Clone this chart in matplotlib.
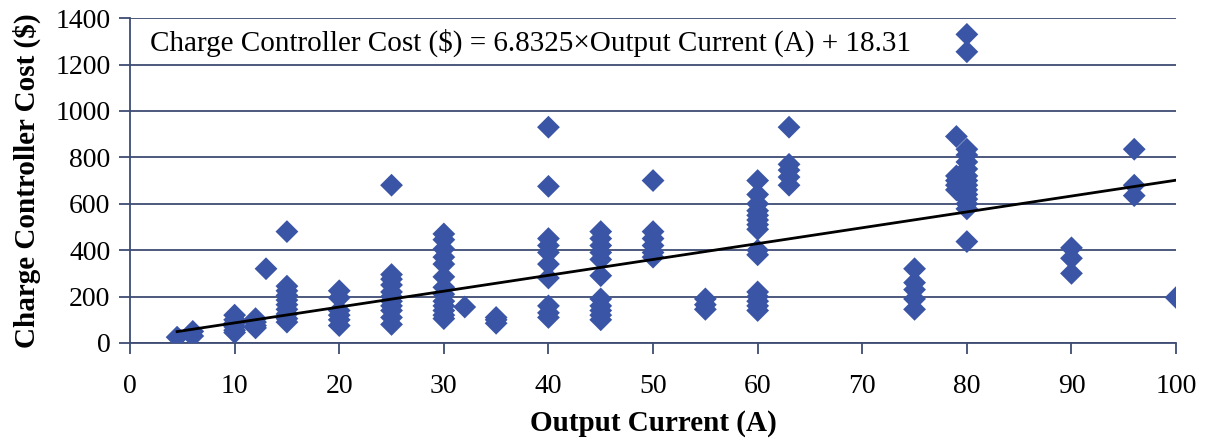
import matplotlib
matplotlib.use("Agg")
import matplotlib.pyplot as plt
import numpy as np

# Output current (A) and controller cost ($) for each controller surveyed
current_groups = [4.5, 6, 10, 12, 13, 15, 20, 25, 30, 32, 35, 40, 45, 50, 55,
                  60, 63, 75, 79, 80, 90, 96, 100]
cost_groups = [
    [25],
    [30, 50],
    [45, 55, 70, 85, 100, 120],
    [65, 75, 90, 105],
    [320],
    [90, 105, 125, 145, 165, 185, 205, 225, 245, 480],
    [75, 100, 120, 140, 195, 225],
    [80, 110, 140, 160, 180, 200, 220, 250, 275, 295, 680],
    [105, 120, 140, 160, 180, 210, 240, 285, 340, 370, 405, 445, 470],
    [155],
    [85, 100, 110],
    [110, 130, 160, 280, 340, 390, 420, 450, 675, 930],
    [100, 120, 140, 160, 190, 290, 360, 390, 420, 450, 480],
    [370, 390, 420, 450, 480, 700],
    [145, 165, 190],
    [140, 160, 180, 200, 220, 380, 400, 490, 510, 530, 550, 570, 600, 640, 700],
    [680, 715, 745, 770, 930],
    [145, 190, 230, 260, 320],
    [660, 680, 700, 720, 890],
    [437, 578, 600, 620, 640, 660, 680, 700, 720, 750, 780, 810, 835, 1255, 1330],
    [300, 365, 410],
    [635, 680, 835],
    [196],
]

# Linear fit reported for the data set
slope = 6.8325
intercept = 18.31
fit_label = "Charge Controller Cost ($) = 6.8325\u00d7Output Current (A) + 18.31"

x_ticks = list(range(0, 101, 10))
y_ticks = list(range(0, 1401, 200))

current = np.concatenate([[c] * len(v) for c, v in zip(current_groups, cost_groups)])
cost = np.concatenate([np.asarray(v, float) for v in cost_groups])

plt.rcParams["font.family"] = ["Liberation Serif", "DejaVu Serif"]

grid_color = "#3E4C74"
marker_color = "#3A55A6"

fig = plt.figure(figsize=(12.05, 4.42), dpi=100)
ax = fig.add_axes([0.1079, 0.224, 0.976 - 0.1079, 0.959 - 0.224])

ax.scatter(current, cost, marker="D", s=135, color=marker_color,
           edgecolors="none", zorder=3)

xs = np.array([current.min(), current.max()])
ax.plot(xs, slope * xs + intercept, color="black", lw=2, zorder=4)

ax.set_xlim(0, 100)
ax.set_ylim(0, 1400)
ax.set_xticks(x_ticks)
ax.set_yticks(y_ticks)
ax.grid(axis="y", color=grid_color, lw=1.3, zorder=0)
ax.set_axisbelow(True)

for side in ("top", "right"):
    ax.spines[side].set_visible(False)
for side in ("left", "bottom"):
    ax.spines[side].set_color(grid_color)
    ax.spines[side].set_linewidth(1.3)

ax.tick_params(axis="both", direction="out", length=8, width=1.3,
               color=grid_color, labelsize=20)
ax.tick_params(axis="x", pad=14)
ax.tick_params(axis="y", pad=6)

ax.set_xlabel("Output Current (A)", fontsize=21, fontweight="bold", labelpad=8)
ax.set_ylabel("Charge Controller Cost ($)", fontsize=21, fontweight="bold", labelpad=10)

ax.text(0.019, 0.925, fit_label, transform=ax.transAxes, fontsize=21,
        va="center", ha="left", zorder=5,
        bbox=dict(facecolor="white", edgecolor="none", pad=1))

fig.savefig("out.png", dpi=100)
